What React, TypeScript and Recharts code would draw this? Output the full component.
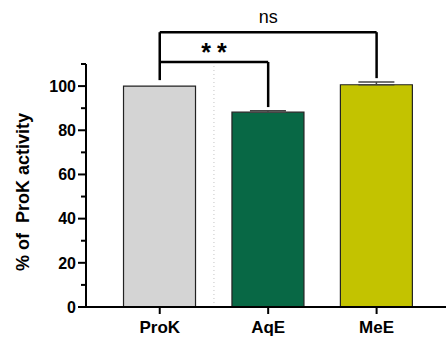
import React from 'react';
import { BarChart, Bar, XAxis, YAxis, Cell, ErrorBar, ReferenceLine } from 'recharts';

const categories = ['ProK', 'AqE', 'MeE'];
const means = [100, 88.2, 100.6];
const sds = [0, 0.6, 1.2];
const yTicks = [0, 10, 20, 30, 40, 50, 60, 70, 80, 90, 100, 110];

// significance brackets: from/to are category indexes, values in % units
const bracketFrom = [0, 0];
const bracketTo = [1, 2];
const bracketTop = [110.9, 124.4];
const bracketLeftEnd = [102.7, 110.9];
const bracketRightEnd = [90.5, 103.6];
const bracketLabels = ['**', 'ns'];

const fills = ['#d4d4d4', '#086845', '#c3c300'];
const FONT = '"Liberation Sans", Arial, sans-serif';

const data = categories.map((name, i) => ({
  x: i,
  name,
  value: means[i],
  err: sds[i] > 0 ? [0, sds[i]] : undefined,
}));

const YTick = (props: any) => {
  const { x, y, payload } = props;
  const major = payload.value % 20 === 0;
  const len = major ? 8 : 5;
  return (
    <g>
      <line x1={x - len} x2={x} y1={y} y2={y} stroke="#000" strokeWidth={2} />
      {major && (
        <text x={x - len - 2} y={y} dy="0.36em" textAnchor="end" fontSize={16} fontWeight="bold" fontFamily={FONT} fill="#000">
          {payload.value}
        </text>
      )}
    </g>
  );
};

const XTick = (props: any) => {
  const { x, y, payload } = props;
  return (
    <text x={x} y={y} dy={17} textAnchor="middle" fontSize={17} fontWeight="bold" fontFamily={FONT} fill="#000">
      {categories[payload.value]}
    </text>
  );
};

const YLabel = () => (
  <text
    x={29}
    y={192}
    transform="rotate(-90, 29, 192)"
    textAnchor="middle"
    fontSize={18}
    fontWeight="bold"
    fontFamily={FONT}
    fill="#000"
    style={{ whiteSpace: 'pre' }}
  >
    {'% of  ProK activity'}
  </text>
);

export default function App() {
  return (
    <div style={{ position: 'absolute', left: 0, top: 0, width: 446, height: 337, background: '#fff', fontFamily: FONT }}>
      <BarChart width={446} height={337} data={data} margin={{ top: 64, right: 0, bottom: 0, left: 0 }}>
        <XAxis
          dataKey="x"
          type="number"
          domain={[-0.68, 2.64]}
          ticks={[0, 1, 2]}
          allowDataOverflow
          height={30}
          axisLine={{ stroke: '#000', strokeWidth: 2 }}
          tickLine={{ stroke: '#000', strokeWidth: 2 }}
          tickSize={7}
          tick={<XTick />}
        />
        <YAxis
          domain={[0, 110]}
          ticks={yTicks}
          interval={0}
          width={86}
          axisLine={{ stroke: '#000', strokeWidth: 2 }}
          tickLine={false}
          tickSize={0}
          tickMargin={0}
          tick={<YTick />}
          label={<YLabel />}
        />
        <ReferenceLine x={0.5} stroke="#c4c4c4" strokeDasharray="1 3" strokeWidth={1} />
        <Bar dataKey="value" barSize={72} isAnimationActive={false} stroke="#222" strokeWidth={1.2}>
          {data.map((d, i) => (
            <Cell key={d.name} fill={fills[i]} />
          ))}
          <ErrorBar dataKey="err" direction="y" width={18} stroke="#444" strokeWidth={1.5} />
        </Bar>
        {bracketLabels.map((lab, i) => (
          <React.Fragment key={lab}>
            <ReferenceLine
              ifOverflow="visible"
              stroke="#000"
              strokeWidth={2.5}
              segment={[
                { x: bracketFrom[i], y: bracketLeftEnd[i] },
                { x: bracketFrom[i], y: bracketTop[i] },
              ]}
            />
            <ReferenceLine
              ifOverflow="visible"
              stroke="#000"
              strokeWidth={2.5}
              segment={[
                { x: bracketFrom[i], y: bracketTop[i] },
                { x: bracketTo[i], y: bracketTop[i] },
              ]}
              label={{
                value: lab,
                position: 'top',
                offset: lab === 'ns' ? 9 : 1,
                dx: lab === 'ns' ? 0 : 3,
                fill: '#000',
                fontSize: lab === 'ns' ? 18 : 25,
                fontWeight: lab === 'ns' ? 'normal' : 'bold',
                fontFamily: FONT,
                letterSpacing: lab === 'ns' ? 0 : 6,
              }}
            />
            <ReferenceLine
              ifOverflow="visible"
              stroke="#000"
              strokeWidth={2.5}
              segment={[
                { x: bracketTo[i], y: bracketTop[i] },
                { x: bracketTo[i], y: bracketRightEnd[i] },
              ]}
            />
          </React.Fragment>
        ))}
      </BarChart>
    </div>
  );
}
